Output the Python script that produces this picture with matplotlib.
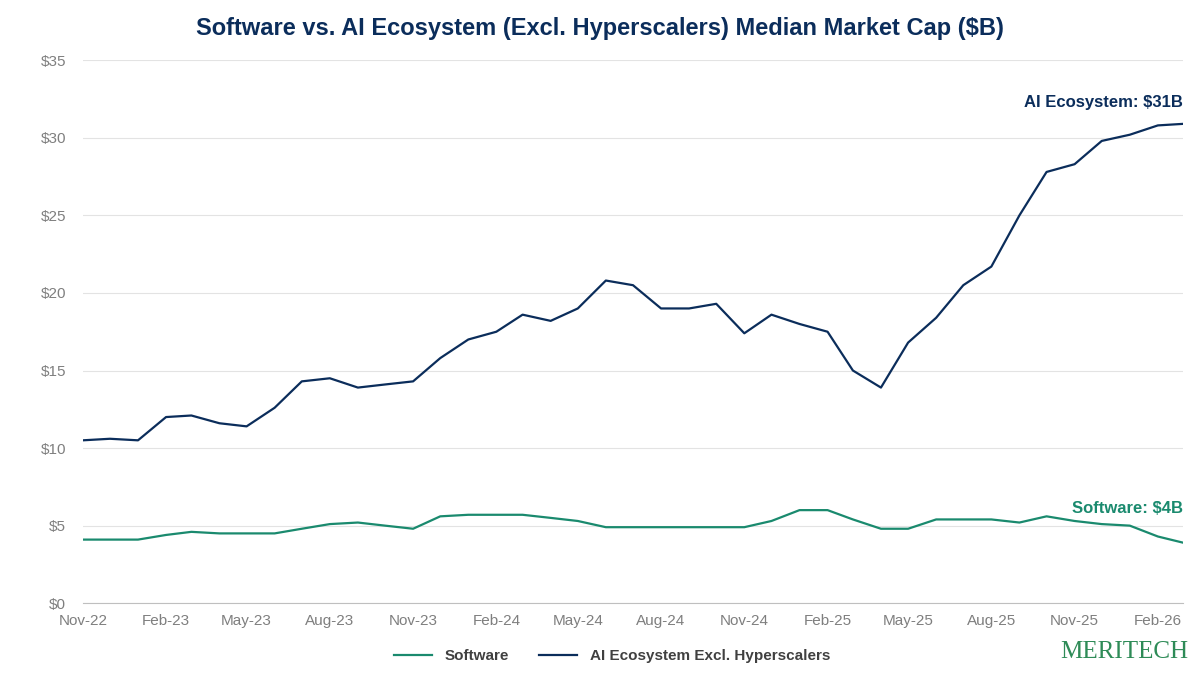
import matplotlib.pyplot as plt
import matplotlib.dates as mdates
import pandas as pd

plt.rcParams['font.family'] = ['Liberation Sans', 'DejaVu Sans']

# monthly readings, Nov-22 .. Feb-26, plus last point
dates = list(pd.date_range("2022-11-01", "2026-02-01", freq="MS")) + [pd.Timestamp("2026-03-01")]
ai = [10.5, 10.6, 10.5, 12.0, 12.1, 11.6, 11.4, 12.6, 14.3, 14.5, 13.9, 14.1, 14.3, 15.8,
      17.0, 17.5, 18.6, 18.2, 19.0, 20.8, 20.5, 19.0, 19.0, 19.3, 17.4, 18.6, 18.0, 17.5,
      15.0, 13.9, 16.8, 18.4, 20.5, 21.7, 25.0, 27.8, 28.3, 29.8, 30.2, 30.8, 30.9]
software = [4.1, 4.1, 4.1, 4.4, 4.6, 4.5, 4.5, 4.5, 4.8, 5.1, 5.2, 5.0, 4.8, 5.6,
            5.7, 5.7, 5.7, 5.5, 5.3, 4.9, 4.9, 4.9, 4.9, 4.9, 4.9, 5.3, 6.0, 6.0,
            5.4, 4.8, 4.8, 5.4, 5.4, 5.4, 5.2, 5.6, 5.3, 5.1, 5.0, 4.3, 3.9]

navy = "#0b2d5b"
teal = "#1a8a6e"

fig, ax = plt.subplots(figsize=(12, 6.77), dpi=100)
fig.subplots_adjust(left=0.069, right=0.986, top=0.911, bottom=0.109)

ax.plot(dates, software, color=teal, lw=1.6, label="Software")
ax.plot(dates, ai, color=navy, lw=1.6, label="AI Ecosystem Excl. Hyperscalers")

ax.set_ylim(0, 35)
ax.set_yticks(range(0, 36, 5))
ax.set_yticklabels([f"${v}" for v in range(0, 36, 5)])
ax.set_xlim(dates[0], dates[-1])
ax.xaxis.set_major_locator(mdates.MonthLocator(bymonth=[2, 5, 8, 11]))
ax.xaxis.set_major_formatter(mdates.DateFormatter("%b-%y"))
ax.tick_params(colors="#7f7f7f", labelsize=11, length=0)
ax.tick_params(axis="x", pad=8)
ax.tick_params(axis="y", pad=12)
ax.grid(axis="y", color="#e3e3e3", lw=0.8)
for s in ["top", "right", "left"]:
    ax.spines[s].set_visible(False)
ax.spines["bottom"].set_color("#bfbfbf")

ax.text(dates[-1], ai[-1] + 0.9, "AI Ecosystem: $31B", color=navy, fontsize=12,
        fontweight="bold", ha="right", va="bottom")
ax.text(dates[-1], software[-1] + 1.7, "Software: $4B", color=teal, fontsize=12,
        fontweight="bold", ha="right", va="bottom")

fig.suptitle("Software vs. AI Ecosystem (Excl. Hyperscalers) Median Market Cap ($B)",
             color=navy, fontsize=17, fontweight="bold", y=0.975)
leg = fig.legend(loc="lower center", ncol=2, frameon=False, fontsize=11,
                 bbox_to_anchor=(0.51, 0.0), handlelength=2.5)
for t in leg.get_texts():
    t.set_fontweight("bold")
    t.set_color("#404040")
fig.text(0.99, 0.02, "MERITECH", color="#2e8b57", fontsize=18, family="Liberation Serif",
         ha="right", va="bottom")

fig.savefig("out.png")
